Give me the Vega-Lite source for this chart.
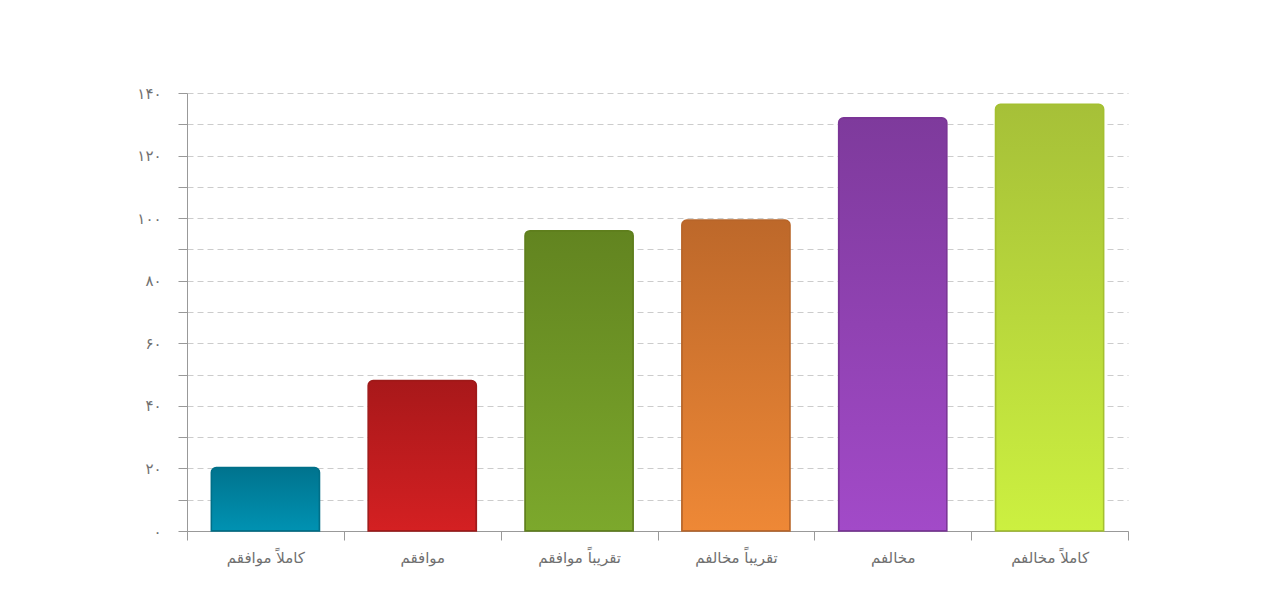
{
  "$schema": "https://vega.github.io/schema/vega-lite/v6.json",
  "width": 941,
  "height": 438,
  "autosize": {"type": "none"},
  "padding": {"left": 187, "top": 93, "right": 137, "bottom": 78},
  "background": "#ffffff",
  "config": {
    "view": {"stroke": null},
    "font": "DejaVu Sans"
  },
  "data": {
    "values": [
      {"label": "کاملاً موافقم", "count": 20.3},
      {"label": "موافقم", "count": 48.1},
      {"label": "تقریباً موافقم", "count": 96.0},
      {"label": "تقریباً مخالفم", "count": 99.4},
      {"label": "مخالفم", "count": 132.1},
      {"label": "کاملاً مخالفم", "count": 136.4}
    ]
  },
  "encoding": {
    "x": {
      "field": "label",
      "type": "nominal",
      "sort": null,
      "scale": {"paddingInner": 0, "paddingOuter": 0},
      "axis": {
        "title": null,
        "labelAngle": 0,
        "tickBand": "extent",
        "domainColor": "#999999",
        "tickColor": "#999999",
        "tickSize": 9,
        "labelColor": "#707070",
        "labelFontSize": 15,
        "labelPadding": 10,
        "labelFont": "DejaVu Sans"
      }
    },
    "y": {
      "field": "count",
      "type": "quantitative",
      "scale": {"domain": [0, 140], "nice": false},
      "axis": {
        "title": null,
        "values": [0, 10, 20, 30, 40, 50, 60, 70, 80, 90, 100, 110, 120, 130, 140],
        "labelExpr": "datum.value == 0 ? '۰' : datum.value == 20 ? '۲۰' : datum.value == 40 ? '۴۰' : datum.value == 60 ? '۶۰' : datum.value == 80 ? '۸۰' : datum.value == 100 ? '۱۰۰' : datum.value == 120 ? '۱۲۰' : datum.value == 140 ? '۱۴۰' : ''",
        "grid": true,
        "gridColor": "#cccccc",
        "gridDash": [6, 4],
        "gridWidth": 1,
        "domainColor": "#999999",
        "tickColor": "#999999",
        "tickSize": 9,
        "labelColor": "#707070",
        "labelFontSize": 15,
        "labelPadding": 17,
        "labelFont": "DejaVu Sans"
      }
    }
  },
  "layer": [
    {
      "transform": [{"filter": "datum.label == 'کاملاً موافقم'"}],
      "mark": {"type": "bar", "width": {"band": 0.69}, "cornerRadiusTopLeft": 5, "cornerRadiusTopRight": 5, "stroke": "#006f88", "strokeWidth": 1.5,
        "fill": {"gradient": "linear", "x1": 0, "y1": 0, "x2": 0, "y2": 1, "stops": [{"offset": 0, "color": "#00738e"}, {"offset": 1, "color": "#0092b2"}]}}
    },
    {
      "transform": [{"filter": "datum.label == 'موافقم'"}],
      "mark": {"type": "bar", "width": {"band": 0.69}, "cornerRadiusTopLeft": 5, "cornerRadiusTopRight": 5, "stroke": "#9e1a1a", "strokeWidth": 1.5,
        "fill": {"gradient": "linear", "x1": 0, "y1": 0, "x2": 0, "y2": 1, "stops": [{"offset": 0, "color": "#a8181a"}, {"offset": 1, "color": "#d42022"}]}}
    },
    {
      "transform": [{"filter": "datum.label == 'تقریباً موافقم'"}],
      "mark": {"type": "bar", "width": {"band": 0.69}, "cornerRadiusTopLeft": 5, "cornerRadiusTopRight": 5, "stroke": "#5f7f1d", "strokeWidth": 1.5,
        "fill": {"gradient": "linear", "x1": 0, "y1": 0, "x2": 0, "y2": 1, "stops": [{"offset": 0, "color": "#628420"}, {"offset": 1, "color": "#7ca82c"}]}}
    },
    {
      "transform": [{"filter": "datum.label == 'تقریباً مخالفم'"}],
      "mark": {"type": "bar", "width": {"band": 0.69}, "cornerRadiusTopLeft": 5, "cornerRadiusTopRight": 5, "stroke": "#b8662a", "strokeWidth": 1.5,
        "fill": {"gradient": "linear", "x1": 0, "y1": 0, "x2": 0, "y2": 1, "stops": [{"offset": 0, "color": "#bd682a"}, {"offset": 1, "color": "#ee8836"}]}}
    },
    {
      "transform": [{"filter": "datum.label == 'مخالفم'"}],
      "mark": {"type": "bar", "width": {"band": 0.69}, "cornerRadiusTopLeft": 5, "cornerRadiusTopRight": 5, "stroke": "#7a3596", "strokeWidth": 1.5,
        "fill": {"gradient": "linear", "x1": 0, "y1": 0, "x2": 0, "y2": 1, "stops": [{"offset": 0, "color": "#7e3a9c"}, {"offset": 1, "color": "#a24ac8"}]}}
    },
    {
      "transform": [{"filter": "datum.label == 'کاملاً مخالفم'"}],
      "mark": {"type": "bar", "width": {"band": 0.69}, "cornerRadiusTopLeft": 5, "cornerRadiusTopRight": 5, "stroke": "#a4c030", "strokeWidth": 1.5,
        "fill": {"gradient": "linear", "x1": 0, "y1": 0, "x2": 0, "y2": 1, "stops": [{"offset": 0, "color": "#a6c038"}, {"offset": 1, "color": "#ccf040"}]}}
    }
  ]
}
